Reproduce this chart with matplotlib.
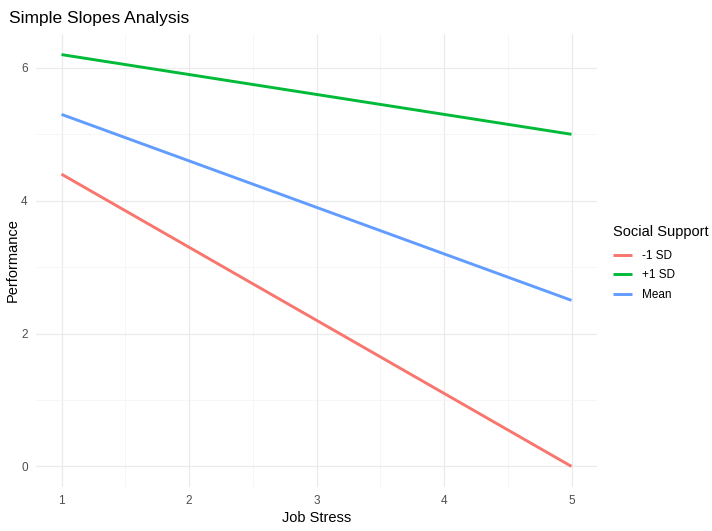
import matplotlib
matplotlib.use('Agg')
import matplotlib.pyplot as plt
from matplotlib.ticker import MultipleLocator

plt.rcParams['font.family'] = ['Liberation Sans', 'DejaVu Sans']

job_stress = [1, 5]
groups = ['-1 SD', '+1 SD', 'Mean']
perf_low = [4.4, 0.0]
perf_high = [6.2, 5.0]
perf_mean = [5.3, 2.5]
colors = ['#F8766D', '#00BA38', '#619CFF']

fig = plt.figure(figsize=(7.12, 5.31), dpi=100)
ax = fig.add_axes([36/712, 44/531, 561/712, 453/531])

for name, vals, c in zip(groups, [perf_low, perf_high, perf_mean], colors):
    ax.plot(job_stress, vals, color=c, lw=2.1, label=name, solid_capstyle='butt')

ax.set_xlim(0.8, 5.2)
ax.set_ylim(-0.31, 6.51)
ax.xaxis.set_major_locator(MultipleLocator(1))
ax.xaxis.set_minor_locator(MultipleLocator(0.5))
ax.yaxis.set_major_locator(MultipleLocator(2))
ax.yaxis.set_minor_locator(MultipleLocator(1))
ax.grid(which='major', color='#EBEBEB', lw=0.9)
ax.grid(which='minor', color='#F3F3F3', lw=0.5)
ax.set_axisbelow(True)
for s in ax.spines.values():
    s.set_visible(False)
ax.tick_params(which='both', length=0, labelsize=8.5, labelcolor='#4D4D4D')
ax.tick_params(axis='x', pad=6)
ax.tick_params(axis='y', pad=6)

ax.set_xlabel('Job Stress', fontsize=10.5, labelpad=3)
ax.set_ylabel('Performance', fontsize=10.5, labelpad=1)
fig.text(9/712, 1 - 18/531, 'Simple Slopes Analysis', fontsize=12.5, va='center', ha='left')

leg = ax.legend(title='Social Support', loc='center left', bbox_to_anchor=(1.01, 0.495),
                frameon=False, fontsize=8.5, title_fontsize=10.5, handlelength=1.6,
                labelspacing=0.65, alignment='left')
leg._legend_box.sep = 8

fig.savefig('out.png', dpi=100)
